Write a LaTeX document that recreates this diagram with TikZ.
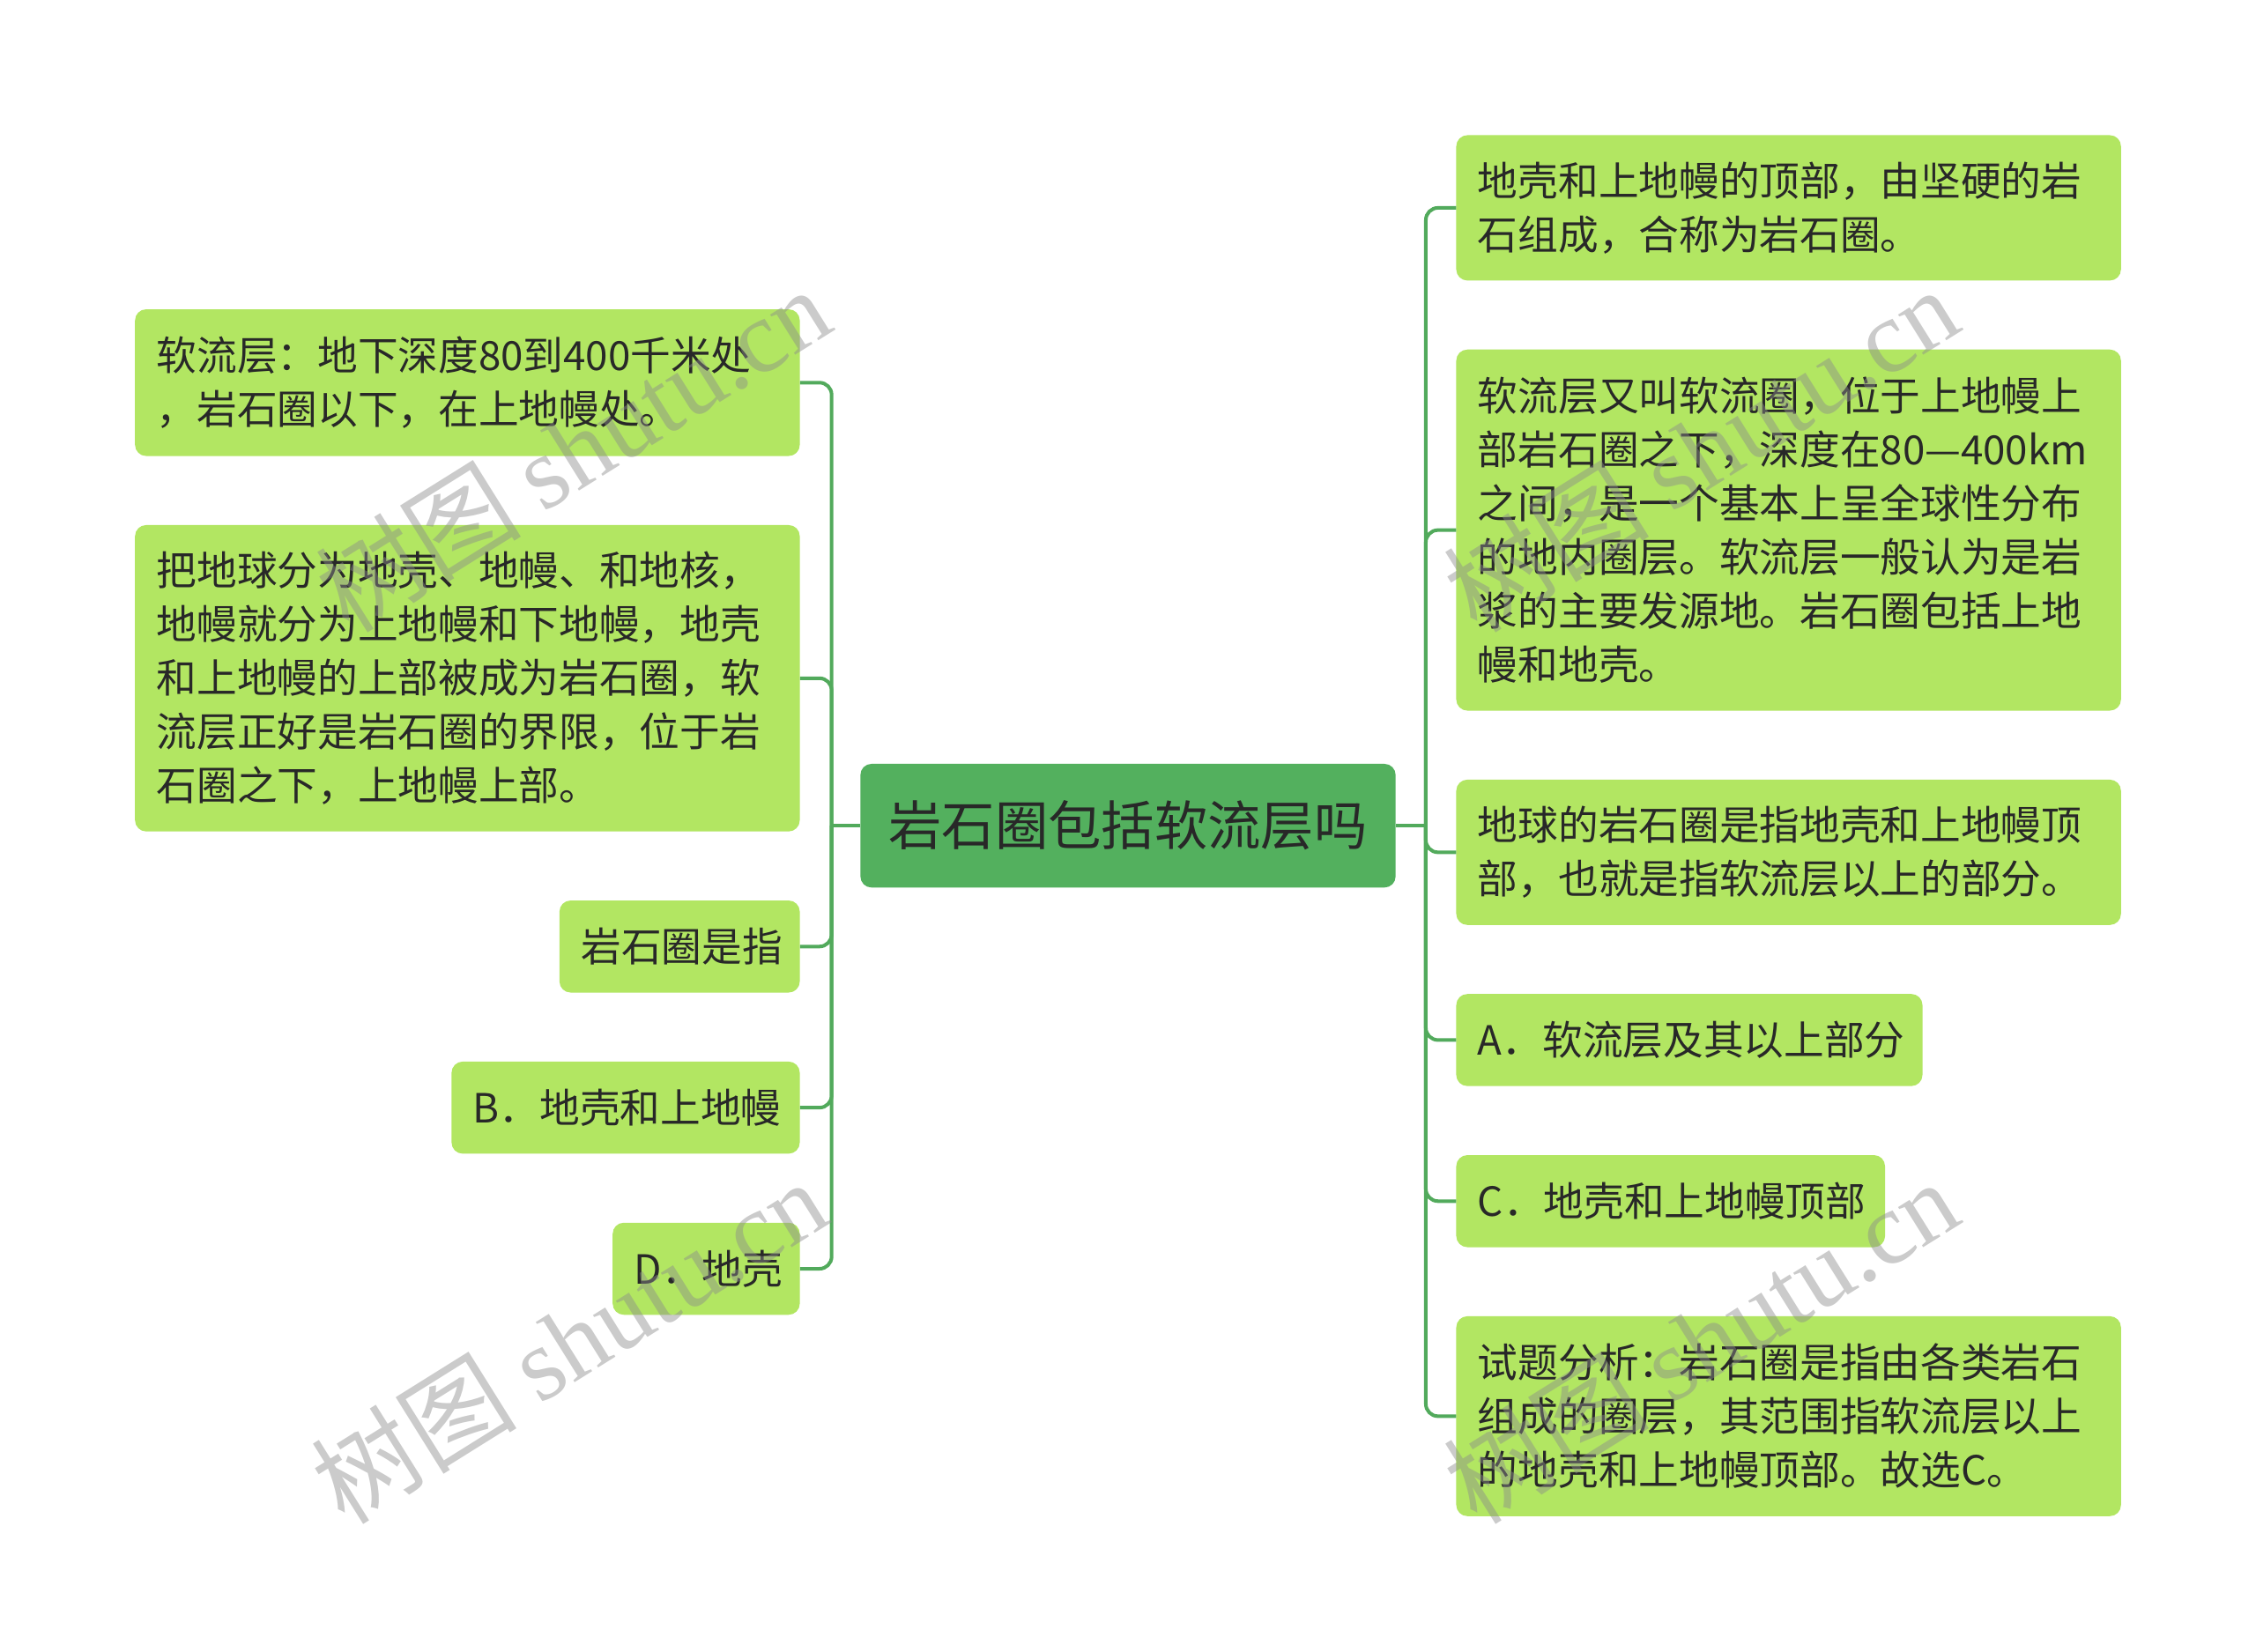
\documentclass[tikz,border=0pt]{standalone}
\usepackage{fontspec}
\setmainfont{Noto Sans CJK SC}
\newfontfamily\wmlatin{Liberation Serif}
\definecolor{leafgreen}{RGB}{178,230,98}
\definecolor{rootgreen}{RGB}{83,176,94}
\definecolor{linec}{RGB}{82,170,92}
\definecolor{textc}{RGB}{40,40,40}
\definecolor{wmc}{RGB}{140,140,140}
\begin{document}
\begin{tikzpicture}[x=1.42263pt,y=-1.42263pt,
  leaf/.style={fill=leafgreen, draw=none, rounded corners=11pt, inner xsep=21.34pt, inner ysep=0pt,
    align=left, text=textc, font=\fontsize{39.8pt}{53.3pt}\selectfont},
  rootbox/.style={fill=rootgreen, draw=none, rounded corners=11pt, inner sep=0pt,
    minimum width=529.2pt, minimum height=122.3pt, text=textc, font=\fontsize{52.6pt}{60pt}\selectfont},
  conn/.style={draw=linec, line width=3.5pt},
  branch/.style={conn, rounded corners=12pt},
  wm/.style={text=wmc, opacity=0.45, font=\fontsize{102pt}{110pt}\selectfont, rotate=32, inner sep=0pt}]
\useasboundingbox[fill=white] (0,0) rectangle (1568,1148);

\node[rootbox] (root) at (784,574) {岩石圈包括软流层吗};

% left nodes
\node[leaf, anchor=east, text width=614.58pt, minimum height=145.1pt] (L1) at (556,266)
  {软流层：地下深度80到400千米处\\，岩石圈以下，在上地幔处。};
\node[leaf, anchor=east, text width=614.58pt, minimum height=303.0pt] (L2) at (556,471.5)
  {把地球分为地壳、地幔、和地核，\\地幔就分为上地幔和下地幔，地壳\\和上地幔的上部被成为岩石圈，软\\流层正好是岩石圈的界限，位于岩\\石圈之下，上地幔上部。};
\node[leaf, anchor=east, text width=194.9pt, minimum height=91.05pt] (L3) at (556,658) {岩石圈是指};
\node[leaf, anchor=east, text width=301.6pt, minimum height=91.05pt] (L4) at (556,770) {B．地壳和上地幔};
\node[leaf, anchor=east, text width=142.3pt, minimum height=91.05pt] (L5) at (556,882) {D．地壳};

% right nodes
\node[leaf, anchor=west, text width=614.58pt, minimum height=143.7pt] (R1) at (1012,144.5)
  {地壳和上地幔的顶部，由坚硬的岩\\石组成，合称为岩石圈。};
\node[leaf, anchor=west, text width=614.58pt, minimum height=357.1pt] (R2) at (1012,368.5)
  {软流层又叫软流圈，位于上地幔上\\部岩石圈之下，深度在80—400km\\之间，是一个基本上呈全球性分布\\的地内圈层。软流层一般认为是岩\\浆的主要发源地。岩石圈包括上地\\幔和地壳。};
\node[leaf, anchor=west, text width=614.58pt, minimum height=143.7pt] (R3) at (1012,592.5)
  {地球的岩石圈是指地壳和上地幔顶\\部，也就是指软流层以上的部分。};
\node[leaf, anchor=west, text width=418.3pt, minimum height=91.05pt] (R4) at (1012,723) {A．软流层及其以上部分};
\node[leaf, anchor=west, text width=381.3pt, minimum height=91.05pt] (R5) at (1012,835) {C．地壳和上地幔顶部};
\node[leaf, anchor=west, text width=614.58pt, minimum height=197.7pt] (R6) at (1012,984.5)
  {试题分析：岩石圈是指由各类岩石\\组成的圈层，其范围指软流层以上\\的地壳和上地幔顶部。故选C。};

% connectors
\coordinate (jl) at (578,574);
\coordinate (jr) at (991,574);
\draw[conn] (root.west) -- (jl);
\draw[conn] (root.east) -- (jr);
\foreach \n in {L1,L2,L3,L4,L5} \draw[branch] (jl) |- (\n.east);
\foreach \n in {R1,R2,R3,R4,R5,R6} \draw[branch] (jr) |- (\n.west);

% watermarks
\node[wm] (w1) at (398,312) {树图 {\wmlatin shutu.cn}};
\node[wm] (w2) at (1182,312) {树图 {\wmlatin shutu.cn}};
\node[wm] (w3) at (395,932) {树图 {\wmlatin shutu.cn}};
\node[wm] (w4) at (1182,932) {树图 {\wmlatin shutu.cn}};
\end{tikzpicture}
\end{document}
